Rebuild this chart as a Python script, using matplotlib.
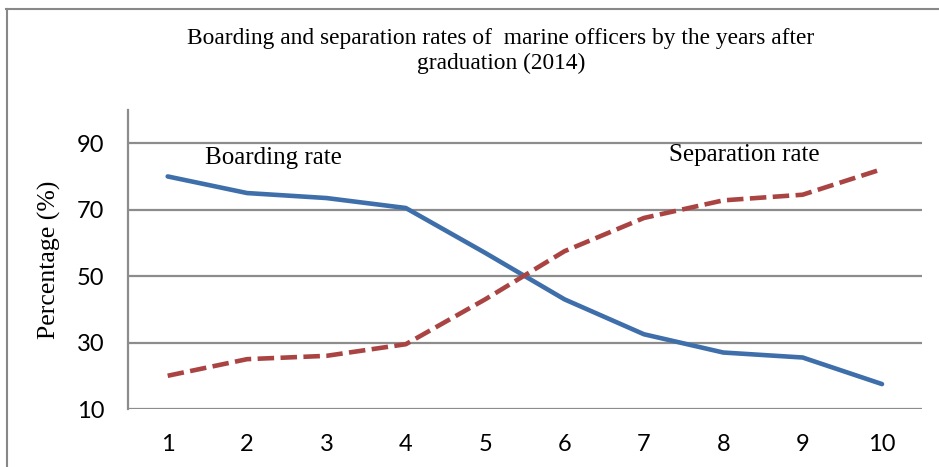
import matplotlib.pyplot as plt
from matplotlib.lines import Line2D

# years after graduation and the two rates (%)
years = [1, 2, 3, 4, 5, 6, 7, 8, 9, 10]
boarding = [80, 75, 73.5, 70.5, 57, 43, 32.5, 27, 25.5, 17.5]
separation = [20, 25, 26, 29.5, 43, 57.5, 67.5, 72.8, 74.5, 82.2]
y_ticks = [10, 30, 50, 70, 90]

TITLE = 'Boarding and separation rates of  marine officers by the years after\ngraduation (2014)'
GRID = '#8c8c8c'
SERIF = 'Liberation Serif'
SANS = 'Lato'

fig = plt.figure(figsize=(9.39, 4.67), dpi=100)
ax = fig.add_axes([128 / 939, 1 - 409 / 467, (921.7 - 128) / 939, (409 - 110) / 467])

ax.plot(years, boarding, color='#3F6FAA', linewidth=3.3, solid_capstyle='round')
ax.plot(years, separation, color='#A94443', linewidth=3.3, dashes=(3.6, 1.4), dash_capstyle='butt')

ax.set_xlim(0.5, 10.5)
ax.set_ylim(10, 100)
ax.set_xticks(years)
ax.set_yticks(y_ticks)
ax.yaxis.grid(True, color=GRID, linewidth=1.6)
ax.set_axisbelow(True)
ax.tick_params(length=0, labelsize=17)
ax.tick_params(axis='y', pad=17)
ax.tick_params(axis='x', pad=18)
for lab in ax.get_xticklabels() + ax.get_yticklabels():
    lab.set_family(SANS)

for side in ['top', 'right', 'bottom']:
    ax.spines[side].set_visible(False)
ax.spines['left'].set_color(GRID)
ax.spines['left'].set_linewidth(1.6)

ax.set_ylabel('Percentage (%)', family=SERIF, fontsize=18.5, labelpad=11)

ax.text(2.33, 85.5, 'Boarding rate', family=SERIF, fontsize=18, ha='center', va='center')
ax.text(8.27, 86.5, 'Separation rate', family=SERIF, fontsize=18, ha='center', va='center')

fig.text(501 / 939, 1 - 51 / 467, TITLE, family=SERIF, fontsize=16.8, ha='center', va='center',
         linespacing=1.25)

# outer chart frame (top and left edges only)
fig.add_artist(Line2D([6 / 939, 1], [1 - 9 / 467, 1 - 9 / 467], transform=fig.transFigure,
                      color='#888888', linewidth=1.5))
fig.add_artist(Line2D([7 / 939, 7 / 939], [0, 1 - 9 / 467], transform=fig.transFigure,
                      color='#888888', linewidth=1.5))

plt.savefig('out.png', dpi=100)
